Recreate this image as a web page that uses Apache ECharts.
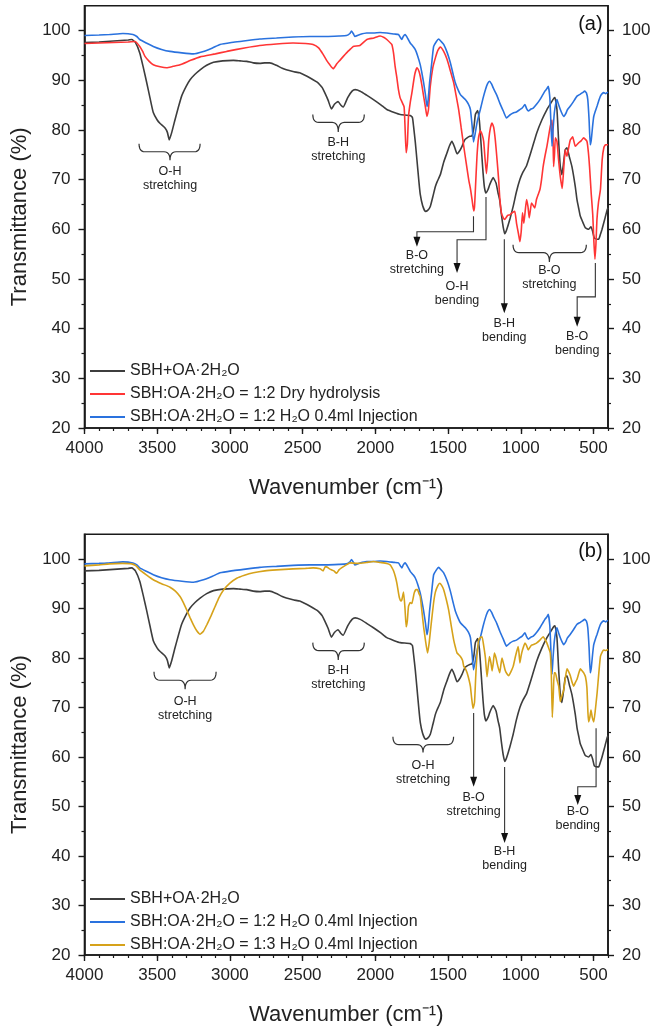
<!DOCTYPE html>
<html><head><meta charset="utf-8">
<script src="https://cdn.jsdelivr.net/npm/echarts@6/dist/echarts.min.js"></script>
<style>html,body{margin:0;padding:0;background:#fff}#c{width:665px;height:1028px}</style>
</head><body><div id="c"></div>
<script>
// ---------- tick labels ----------
const xTicks = [4000, 3500, 3000, 2500, 2000, 1500, 1000, 500];
const yTicks = [20, 30, 40, 50, 60, 70, 80, 90, 100];
const yMinorTicks = [25, 35, 45, 55, 65, 75, 85, 95];

// ---------- series names ----------
const nameSBH = 'SBH+OA·2H₂O';
const nameDry = 'SBH:OA·2H₂O = 1:2 Dry hydrolysis';
const nameInj12 = 'SBH:OA·2H₂O = 1:2 H₂O 0.4ml Injection';
const nameInj13 = 'SBH:OA·2H₂O = 1:3 H₂O 0.4ml Injection';

// ---------- spectra: [wavenumber, transmittance %] ----------
const specSBH = [[4000,97.6],[3900,97.7],[3800,97.9],[3700,98.1],[3675,98.2],[3650,97.6],[3620,95.5],[3595,92.5],[3572,89.5],[3550,86.5],[3527,83.5],[3500,82.0],[3480,81.3],[3446,80.4],[3430,79.5],[3417,78.0],[3400,79.5],[3378,82],[3355,84.5],[3332,86.8],[3300,88.8],[3274,90.1],[3240,91.2],[3205,92.1],[3160,93.0],[3113,93.6],[3050,93.9],[2976,94.0],[2930,93.9],[2884,93.8],[2840,93.5],[2795,93.4],[2760,93.5],[2725,93.5],[2680,93.0],[2640,92.4],[2612,92.1],[2560,91.7],[2520,91.5],[2470,90.8],[2428,90.1],[2400,89.6],[2382,89.1],[2365,88.5],[2348,87.5],[2325,86],[2302,84.2],[2280,85.2],[2256,85.7],[2238,85.0],[2221,84.6],[2190,86.5],[2160,87.8],[2139,88.1],[2104,87.8],[2060,87.0],[2013,86.1],[1960,85.0],[1921,84.1],[1870,83.5],[1829,83.1],[1760,82.9],[1745,82.5],[1737,80.7],[1725,77.5],[1714,74],[1700,69.5],[1691,67.0],[1675,64.8],[1656,63.6],[1640,63.8],[1622,64.6],[1605,66.5],[1587,68.6],[1576,69.5],[1553,71.0],[1530,73.5],[1507,75.4],[1490,76.8],[1473,77.7],[1455,76.5],[1438,75.2],[1420,75.8],[1404,76.7],[1385,78.0],[1369,78.4],[1350,78.7],[1335,78.8],[1322,80.5],[1312,83.1],[1296,83.9],[1285,82],[1278,79.4],[1268,75],[1259,71.3],[1250,68.5],[1240,67.3],[1225,68.0],[1213,69],[1190,70.4],[1170,69.3],[1156,67.3],[1145,65.9],[1133,63],[1121,60.5],[1110,59.1],[1098,59.8],[1075,62],[1052,64.6],[1030,67.5],[1006,70],[985,71.5],[960,72.8],[925,76],[890,79.4],[855,82],[820,84.1],[795,85.3],[774,86.3],[765,86.5],[751,84.1],[740,78],[728,72.6],[717,71.0],[705,73.5],[694,76],[682,76.4],[665,74.5],[648,72.6],[625,68.6],[613,65.9],[600,64],[590,62.6],[570,61.2],[556,60.3],[533,60],[517,60.5],[505,59.5],[494,58.2],[475,58.0],[464,58],[452,59],[441,60],[420,62.3],[406,63.9],[400,64.3]];

const specDry = [[4000,97.4],[3900,97.5],[3800,97.6],[3700,97.7],[3652,97.8],[3620,96.8],[3600,95.8],[3584,94.8],[3555,93.8],[3527,93.1],[3480,92.7],[3435,92.5],[3390,92.8],[3343,93.1],[3270,94.0],[3205,94.7],[3100,95.3],[3022,95.8],[2900,96.5],[2795,97.0],[2680,97.3],[2566,97.5],[2480,97.4],[2428,97.2],[2390,96.5],[2359,95.2],[2335,94.0],[2313,93.1],[2290,92.3],[2265,93.3],[2244,94.0],[2220,94.8],[2198,95.5],[2170,96.3],[2152,96.8],[2106,97.0],[2058,98.2],[2010,98.5],[1967,98.9],[1940,98.6],[1921,98.2],[1887,97.2],[1875,95.5],[1864,92.8],[1852,90.5],[1841,88.1],[1830,86.5],[1818,85.7],[1802,84.6],[1795,80],[1788,75.4],[1780,77],[1772,82.7],[1760,85.5],[1749,87.4],[1730,91],[1714,92.5],[1700,91.8],[1691,90.8],[1680,89],[1668,86.8],[1655,84.5],[1645,82.7],[1635,84],[1622,88.8],[1605,92.5],[1587,94.5],[1570,96],[1553,96.7],[1530,95.8],[1507,94.2],[1485,92],[1461,89.5],[1445,87],[1427,84.1],[1410,80.5],[1392,76.7],[1375,73.3],[1358,70],[1345,68],[1335,66],[1324,63.7],[1318,64.5],[1312,68],[1301,74.7],[1290,78.5],[1278,79.8],[1265,79],[1255,77.7],[1245,74],[1236,71.2],[1228,74],[1220,78],[1208,80.5],[1197,81.4],[1186,80.5],[1175,78],[1163,74],[1152,70],[1145,66.6],[1133,63.3],[1120,62.3],[1110,62],[1090,62.8],[1075,62.9],[1055,63.4],[1041,63.6],[1029,61.2],[1015,59],[1006,57.5],[997,59.5],[988,63.3],[979,61.2],[970,63.5],[960,66],[950,64.5],[942,62.3],[934,63.8],[926,65.3],[915,64.8],[903,64.3],[892,66],[880,67],[868,68],[857,70],[846,72.6],[833,74.8],[820,76.7],[808,78.8],[797,80.7],[785,82.0],[778,78],[774,72.6],[768,75],[762,78.4],[751,77.7],[740,74],[728,70.6],[715,68.2],[705,72],[694,76],[682,74.7],[670,76.5],[659,78],[643,78.6],[625,76.7],[602,77.4],[585,77.8],[567,78.4],[545,77.7],[535,75.5],[527,72.6],[515,67],[505,63],[497,57.5],[490,54.0],[483,57],[476,62],[465,65.5],[452,68],[440,74],[428,76.5],[417,77],[400,77]];

const specInj12 = [[4000,99.0],[3900,99.1],[3828,99.2],[3736,99.4],[3667,99.2],[3640,98.8],[3620,98.2],[3575,97.5],[3527,96.8],[3470,96.2],[3412,95.8],[3330,95.5],[3251,95.3],[3182,95.8],[3120,96.5],[3068,97.2],[2990,97.6],[2930,97.8],[2795,98.3],[2680,98.5],[2566,98.7],[2450,98.8],[2336,98.8],[2250,98.9],[2198,99.0],[2175,99.4],[2164,99.9],[2150,99.3],[2141,98.8],[2106,99.2],[2060,99.5],[2013,99.5],[1967,99.6],[1921,99.5],[1870,99.3],[1841,99.2],[1828,98.6],[1818,98.2],[1808,98.8],[1795,99.2],[1775,98.3],[1760,97.5],[1740,96.8],[1726,96.2],[1710,95.0],[1691,93.1],[1680,91.5],[1668,89.5],[1655,87],[1645,84.7],[1637,86],[1627,89.5],[1612,93.5],[1599,96.8],[1580,97.8],[1565,98.3],[1548,97.8],[1530,97.2],[1505,95.5],[1484,93.5],[1465,91.2],[1450,89.5],[1430,88],[1415,87.1],[1395,86.5],[1381,86.1],[1360,85.2],[1346,84.1],[1335,81],[1325,77.6],[1315,79],[1301,81.4],[1290,82.8],[1278,84.1],[1260,86.3],[1243,88.1],[1228,89.3],[1215,89.8],[1200,89.2],[1190,88.5],[1165,87],[1144,85.4],[1120,83.8],[1098,82.4],[1075,83.0],[1052,83.4],[1030,83.6],[1006,84.1],[990,84.4],[971,85.1],[960,84.3],[948,83.8],[930,84.2],[914,84.4],[890,85.2],[868,86.1],[850,87],[834,87.8],[820,88.3],[811,88.8],[800,86.5],[792,81],[785,76.7],[778,80],[769,83.4],[760,85.2],[751,86.1],[740,85.1],[728,84.1],[715,83.2],[705,82.7],[690,83.3],[680,84],[659,84.8],[640,85.6],[613,86.8],[590,87.2],[575,87.5],[560,87.8],[548,87.4],[539,86.1],[530,82],[522,77.0],[515,78],[505,81],[498,82.7],[487,83.8],[475,84.8],[462,86],[452,86.8],[440,87.3],[429,87.5],[416,87.3],[406,87.5],[400,87.6]];

const specInj13 = [[4000,98.6],[3900,98.8],[3828,99.0],[3740,99.1],[3675,99.0],[3645,98.6],[3620,97.8],[3575,96.8],[3527,95.8],[3470,95.0],[3412,94.3],[3375,93.5],[3343,92.4],[3320,91.2],[3297,89.7],[3275,88.2],[3251,86.7],[3228,85.5],[3205,84.8],[3182,85.4],[3159,86.7],[3130,88.5],[3102,90.4],[3075,92.2],[3045,93.7],[3000,95.1],[2953,96.1],[2900,96.7],[2839,97.2],[2760,97.6],[2680,97.8],[2566,98.0],[2480,98.1],[2428,98.2],[2380,98.0],[2359,97.6],[2345,98.4],[2336,98.4],[2320,98.1],[2302,97.8],[2285,97.6],[2267,97.1],[2250,97.8],[2233,98.2],[2200,98.8],[2175,99.2],[2127,99.1],[2060,99.3],[2013,99.5],[1967,99.3],[1920,99.1],[1898,98.8],[1885,98.2],[1875,97.6],[1862,96.4],[1852,95.1],[1840,93],[1834,92.1],[1825,91.5],[1818,91.7],[1806,93.3],[1796,90],[1788,86.3],[1780,87.5],[1772,90.4],[1760,91.2],[1749,91.0],[1733,93.1],[1720,93.8],[1710,93.8],[1700,93],[1691,92.4],[1680,89.5],[1668,86.3],[1655,83.5],[1641,81.0],[1630,83],[1618,86.3],[1600,91],[1587,93.3],[1570,94.6],[1557,95.1],[1545,94.7],[1530,93.8],[1512,91.8],[1496,89.7],[1478,86.5],[1461,83.6],[1448,82],[1438,81.0],[1415,80.3],[1400,79.5],[1392,78.3],[1380,77.8],[1369,77.0],[1355,75.5],[1346,74.2],[1338,72],[1328,69.8],[1318,71],[1310,76],[1301,80.5],[1289,83.6],[1275,84.2],[1266,84.3],[1255,82.5],[1243,80],[1232,76.2],[1223,78.5],[1215,80.3],[1205,79],[1197,77.4],[1189,79],[1181,81.0],[1170,80],[1163,79],[1145,77],[1137,78.5],[1129,80],[1118,78.8],[1106,77.4],[1095,76.8],[1083,76.4],[1068,77.2],[1052,78.3],[1035,80.5],[1018,82.3],[1012,81],[1006,79],[997,80.5],[988,81.6],[971,83],[960,82.5],[948,81.6],[936,82.2],[926,82.6],[905,82.8],[892,83],[868,83.6],[846,84.3],[832,83.7],[820,83],[808,82],[797,81],[790,77],[783,68],[777,72],[770,77],[762,77],[750,75.5],[739,74.3],[733,72.5],[728,71.2],[720,72],[705,73.5],[693,76],[682,77.8],[670,77.2],[659,76.4],[648,75.2],[636,74.3],[625,75],[613,75.7],[600,77],[590,77.8],[578,77.4],[567,77],[555,76.2],[545,74],[538,69],[533,67.1],[525,68],[517,69.5],[508,68],[498,67.1],[487,69.5],[480,71.5],[475,72.9],[463,77],[452,80.3],[440,81.2],[429,81.6],[416,81.5],[400,81.7]];

// ---------- annotations (data coordinates) ----------
const annotations = [
  {g:0, kind:'brace', w1:3625, w2:3205, wm:3412, vTop:77.2, vMid:75.6, vTip:73.9, text:'O-H\nstretching', tw:3412, tv:70.2},
  {g:0, kind:'brace', w1:2430, w2:2076, wm:2255, vTop:83.1, vMid:81.5, vTip:79.6, text:'B-H\nstretching', tw:2255, tv:76.0},
  {g:0, kind:'arrow', pts:[[1325,62.6],[1325,59.5],[1714,59.5],[1714,56.5]], text:'B-O\nstretching', tw:1714, tv:53.3},
  {g:0, kind:'arrow', pts:[[1239,66.5],[1239,57.9],[1438,57.9],[1438,51.2]], text:'O-H\nbending', tw:1438, tv:47.0},
  {g:0, kind:'arrow', pts:[[1113,58.0],[1113,43.1]], text:'B-H\nbending', tw:1113, tv:39.7},
  {g:0, kind:'brace', w1:1053, w2:549, wm:803, vTop:56.9, vMid:55.3, vTip:53.4, text:'B-O\nstretching', tw:803, tv:50.2},
  {g:0, kind:'arrow', pts:[[487,53.2],[487,46.4],[612,46.4],[612,40.4]], text:'B-O\nbending', tw:612, tv:37.0},
  {g:1, kind:'brace', w1:3522, w2:3095, wm:3308, vTop:77.2, vMid:75.5, vTip:73.7, text:'O-H\nstretching', tw:3308, tv:69.8},
  {g:1, kind:'brace', w1:2430, w2:2076, wm:2255, vTop:83.1, vMid:81.5, vTip:79.6, text:'B-H\nstretching', tw:2255, tv:76.0},
  {g:1, kind:'brace', w1:1879, w2:1462, wm:1672, vTop:64.1, vMid:62.5, vTip:60.9, text:'O-H\nstretching', tw:1672, tv:56.8},
  {g:1, kind:'arrow', pts:[[1324,68.9],[1324,54.0]], text:'B-O\nstretching', tw:1324, tv:50.4},
  {g:1, kind:'arrow', pts:[[1111,58.0],[1111,42.6]], text:'B-H\nbending', tw:1111, tv:39.5},
  {g:1, kind:'arrow', pts:[[482,65.8],[482,54.0],[608,54.0],[608,50.3]], text:'B-O\nbending', tw:608, tv:47.6},
  {g:0, kind:'label', text:'(a)', tw:521, tv:101.2},
  {g:1, kind:'label', text:'(b)', tw:521, tv:101.5}
];

const FONT = '"Liberation Sans", Arial, Helvetica, sans-serif';
const INK = '#1a1a1a';
const colSBH = '#3d3d3d', colDry = '#ff3535', colInj12 = '#2a72de', colInj13 = '#d6a21a';

const chart = echarts.init(document.getElementById('c'), null, {renderer: 'canvas'});

const grids = [
  {left: 84.5, top: 5.7, width: 523.5, height: 422.3},
  {left: 84.5, top: 534.2, width: 523.5, height: 420.8}
];

function xAxes(g) {
  return [
    {gridIndex: g, type: 'value', min: 400, max: 4000, inverse: true, interval: 100, position: 'bottom',
     axisLine: {show: false, onZero: false}, axisTick: {show: true, length: 3, lineStyle: {color: INK, width: 1.2}},
     axisLabel: {show: false}, splitLine: {show: false}},
    {gridIndex: g, type: 'value', min: 400, max: 4000, inverse: true, interval: 100, position: 'bottom',
     axisLine: {show: true, onZero: false, lineStyle: {color: INK, width: 1.6}},
     axisTick: {show: true, length: 6, customValues: xTicks, lineStyle: {color: INK, width: 1.4}},
     axisLabel: {customValues: xTicks, margin: 12, fontSize: 17, color: '#222', fontFamily: FONT,
       formatter: v => String(v)},
     splitLine: {show: false},
     name: 'Wavenumber (cm⁻¹)', nameLocation: 'middle', nameGap: 49,
     nameTextStyle: {fontSize: 22, color: '#222', fontFamily: FONT}}
  ];
}
function yAxes(g) {
  const base = {gridIndex: g, type: 'value', min: 20, max: 105, interval: 5, splitLine: {show: false}};
  return [
    Object.assign({}, base, {position: 'left', axisLine: {show: false, onZero: false},
      axisTick: {show: true, length: 3, customValues: yMinorTicks, lineStyle: {color: INK, width: 1.2}}, axisLabel: {show: false}}),
    Object.assign({}, base, {position: 'left', axisLine: {show: true, onZero: false, lineStyle: {color: INK, width: 1.6}},
      axisTick: {show: true, length: 6, customValues: yTicks, lineStyle: {color: INK, width: 1.4}},
      axisLabel: {customValues: yTicks, margin: 14, fontSize: 17, color: '#222', fontFamily: FONT},
      name: 'Transmittance (%)', nameLocation: 'middle', nameGap: 39,
      nameTextStyle: {fontSize: 22, color: '#222', fontFamily: FONT}}),
    Object.assign({}, base, {position: 'right', axisLine: {show: false, onZero: false},
      axisTick: {show: true, length: 3, customValues: yMinorTicks, lineStyle: {color: INK, width: 1.2}}, axisLabel: {show: false}}),
    Object.assign({}, base, {position: 'right', axisLine: {show: true, onZero: false, lineStyle: {color: INK, width: 1.6}},
      axisTick: {show: true, length: 6, customValues: yTicks, lineStyle: {color: INK, width: 1.4}},
      axisLabel: {customValues: yTicks, margin: 14, fontSize: 17, color: '#222', fontFamily: FONT}})
  ];
}

function line(name, data, color, xi, yi, z) {
  return {type: 'line', name, data, xAxisIndex: xi, yAxisIndex: yi, showSymbol: false, symbol: 'none',
    smooth: 0.15, color, itemStyle: {color}, lineStyle: {color, width: 1.6}, z, animation: false, silent: true};
}

const legendBase = {orient: 'vertical', left: 90, padding: 0, itemWidth: 35, itemHeight: 2, itemGap: 5,
  icon: 'rect', selectedMode: false, textStyle: {fontSize: 16, lineHeight: 18, color: '#222', fontFamily: FONT}};

chart.setOption({
  animation: false,
  backgroundColor: '#fff',
  grid: grids.map(gr => Object.assign({show: true, borderColor: INK, borderWidth: 1.6, backgroundColor: 'transparent'}, gr)),
  xAxis: xAxes(0).concat(xAxes(1)),
  yAxis: yAxes(0).concat(yAxes(1)),
  legend: [
    Object.assign({}, legendBase, {top: 362, data: [nameSBH, nameDry, nameInj12]}),
    Object.assign({}, legendBase, {top: 890, data: [nameSBH, nameInj12, nameInj13]})
  ],
  series: [
    line(nameSBH, specSBH, colSBH, 0, 0, 2),
    line(nameDry, specDry, colDry, 0, 0, 3),
    line(nameInj12, specInj12, colInj12, 0, 0, 4),
    line(nameSBH, specSBH, colSBH, 2, 4, 2),
    line(nameInj12, specInj12, colInj12, 2, 4, 3),
    line(nameInj13, specInj13, colInj13, 2, 4, 4)
  ]
});

function px(g, w, v) {
  return chart.convertToPixel(g === 0 ? {xAxisIndex: 0, yAxisIndex: 0} : {xAxisIndex: 2, yAxisIndex: 4}, [w, v]);
}
// sample a quadratic Bezier into points
function quad(p0, c, p1, n) {
  const out = [];
  for (let i = 1; i <= n; i++) {
    const t = i / n, u = 1 - t;
    out.push([u * u * p0[0] + 2 * u * t * c[0] + t * t * p1[0], u * u * p0[1] + 2 * u * t * c[1] + t * t * p1[1]]);
  }
  return out;
}
const ANN = '#333';
const elements = [];
annotations.forEach(a => {
  if (a.kind === 'brace') {
    const p1 = px(a.g, a.w1, a.vTop), p2 = px(a.g, a.w2, a.vTop), pm = px(a.g, a.wm, a.vMid), pt = px(a.g, a.wm, a.vTip);
    const x1 = p1[0], x2 = p2[0], yT = p1[1], xm = pm[0], yM = pm[1], yP = pt[1], r = 6;
    let pts = [[x1, yT]];
    pts = pts.concat(quad([x1, yT], [x1, yM], [x1 + r, yM], 6));
    pts.push([xm - r, yM]);
    pts = pts.concat(quad([xm - r, yM], [xm, yM], [xm, yP], 6));
    pts = pts.concat(quad([xm, yP], [xm, yM], [xm + r, yM], 6));
    pts.push([x2 - r, yM]);
    pts = pts.concat(quad([x2 - r, yM], [x2, yM], [x2, yT], 6));
    elements.push({type: 'polyline', silent: true, z: 10, shape: {points: pts}, style: {stroke: ANN, fill: null, lineWidth: 1.2}});
  } else if (a.kind === 'arrow') {
    const pts = a.pts.map(p => px(a.g, p[0], p[1]));
    const tip = pts[pts.length - 1];
    const head = 10, hw = 3.5;
    const linePts = pts.slice(0, -1).concat([[tip[0], tip[1] - head + 1]]);
    elements.push({type: 'polyline', silent: true, z: 10, shape: {points: linePts}, style: {stroke: ANN, fill: null, lineWidth: 1.1}});
    elements.push({type: 'polygon', silent: true, z: 10, shape: {points: [[tip[0], tip[1]], [tip[0] - hw, tip[1] - head], [tip[0] + hw, tip[1] - head]]}, style: {fill: '#111'}});
  }
  const tp = px(a.g, a.tw, a.tv);
  const isLabel = a.kind === 'label';
  elements.push({type: 'text', silent: true, z: 11, x: tp[0], y: tp[1],
    style: {text: a.text, align: 'center', verticalAlign: 'middle', fill: isLabel ? '#111' : '#222',
      fontSize: isLabel ? 20 : 12.5, fontFamily: FONT, lineHeight: isLabel ? 22 : 14}});
});
chart.setOption({graphic: {elements}});
</script>
</body></html>
